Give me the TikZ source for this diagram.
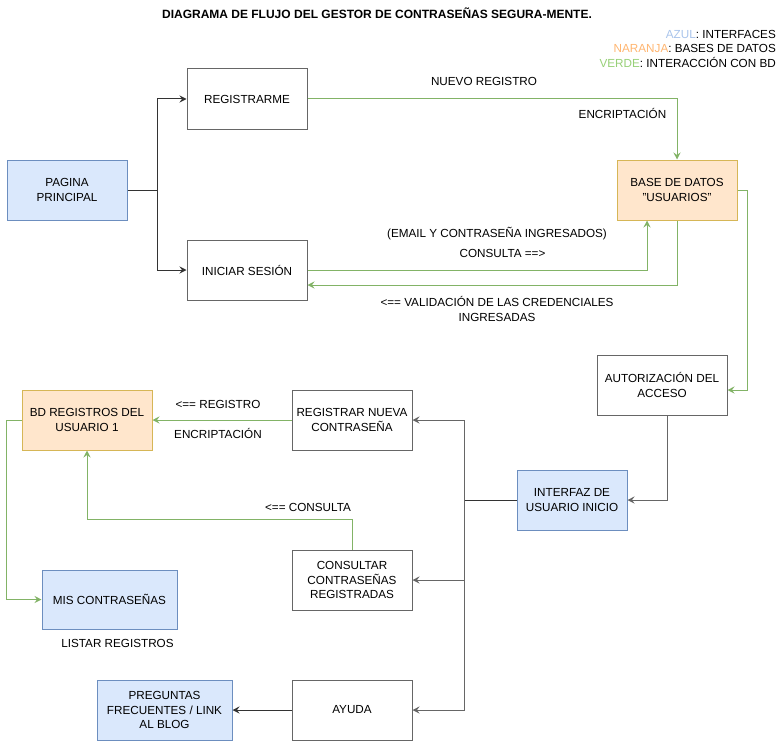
\documentclass[tikz,border=0pt]{standalone}
\usepackage{fontspec}
\setmainfont{Liberation Sans}
\usetikzlibrary{arrows.meta}
\definecolor{bluefill}{HTML}{DAE8FC}
\definecolor{bluestroke}{HTML}{6C8EBF}
\definecolor{orangefill}{HTML}{FFE6CC}
\definecolor{orangestroke}{HTML}{D6B656}
\definecolor{greenline}{HTML}{82B366}
\definecolor{boxstroke}{HTML}{666666}
\definecolor{darkline}{HTML}{333333}
\definecolor{legblue}{HTML}{A9C4EB}
\definecolor{legorange}{HTML}{FFB570}
\definecolor{leggreen}{HTML}{97D077}
\tikzset{
  txt/.style={font=\fontsize{11.7}{14.2}\selectfont, align=center, inner sep=0pt},
  box/.style={txt, draw=boxstroke, line width=1pt, fill=white,
    minimum width=120pt, minimum height=60pt},
  bluebox/.style={box, draw=bluestroke, fill=bluefill},
  orangebox/.style={box, draw=orangestroke, fill=orangefill},
  tip/.style={-{Stealth[length=7pt,width=7pt,inset=2.5pt]}},
  flow/.style={line width=1pt, draw=darkline},
  grayflow/.style={line width=1pt, draw=boxstroke},
  dbflow/.style={line width=1pt, draw=greenline, color=greenline},
  lbl/.style={txt}
}
\begin{document}
\begin{tikzpicture}[x=1pt,y=-1pt]
\useasboundingbox (0,0) rectangle (778,741);

% title and colour key
\node[txt, font=\fontsize{12}{13}\selectfont\bfseries] (title) at (377,13)
  {DIAGRAMA DE FLUJO DEL GESTOR DE CONTRASEÑAS SEGURA-MENTE.};
\node[txt, anchor=east] (key1) at (776,34) {\textcolor{legblue}{AZUL}: INTERFACES};
\node[txt, anchor=east] (key2) at (776,48) {\textcolor{legorange}{NARANJA}: BASES DE DATOS};
\node[txt, anchor=east] (key3) at (776,62) {\textcolor{leggreen}{VERDE}: INTERACCIÓN CON BD};

% boxes
\node[bluebox] (pag) at (67,190) {PAGINA\\PRINCIPAL};
\node[box] (reg) at (247,99) {REGISTRARME};
\node[box] (ini) at (247,270) {INICIAR SESIÓN};
\node[orangebox] (bdu) at (677,190) {BASE DE DATOS\\"USUARIOS"};
\node[box, minimum width=130pt] (aut) at (662,385) {AUTORIZACIÓN DEL\\ACCESO};
\node[bluebox, minimum width=110pt] (int) at (572,500) {INTERFAZ DE\\USUARIO INICIO};
\node[box] (rnc) at (352,420) {REGISTRAR NUEVA\\CONTRASEÑA};
\node[orangebox, minimum width=130pt] (bdr) at (87,420) {BD REGISTROS DEL\\USUARIO 1};
\node[box] (con) at (352,580) {CONSULTAR\\CONTRASEÑAS\\REGISTRADAS};
\node[bluebox, minimum width=135pt, minimum height=59pt] (mis) at (109.5,599.5) {MIS CONTRASEÑAS};
\node[box] (ayu) at (352,710) {AYUDA};
\node[bluebox, minimum width=135pt] (pre) at (164.5,710) {PREGUNTAS\\FRECUENTES / LINK\\AL BLOG};

% main page branches
\coordinate (s1) at (157,190);
\draw[flow] (pag.east) -- (s1);
\draw[flow, tip] (s1) |- (reg.west);
\draw[flow, tip] (s1) |- (ini.west);

% user database interaction
\draw[dbflow, tip] (reg.east) -| (bdu.north);
\draw[dbflow, tip] (ini.east) -| ([xshift=-30pt]bdu.south);
\draw[dbflow, tip] (bdu.south) |- ([yshift=-15pt]ini.east);
\draw[dbflow, tip] (bdu.east) -- ++(10,0) |- ([yshift=-5pt]aut.east);
\node[lbl] (l1) at (484,81.5) {NUEVO REGISTRO};
\node[lbl] (l2) at (622.5,113.5) {ENCRIPTACIÓN};
\node[lbl] (l3) at (497,234) {(EMAIL Y CONTRASEÑA INGRESADOS)};
\node[lbl] (l4) at (502.5,253.5) {CONSULTA ==>};
\node[lbl] (l5) at (497,309) {<== VALIDACIÓN DE LAS CREDENCIALES\\INGRESADAS};

% access to the user area
\draw[grayflow, tip] ([xshift=5pt]aut.south) |- (int.east);
\coordinate (s2) at (464,500);
\draw[flow] (int.west) -- (s2);
\draw[grayflow, tip] (s2) |- (rnc.east);
\draw[grayflow, tip] (s2) |- (con.east);
\draw[grayflow, tip] (s2) |- (ayu.east);
\draw[flow, tip] (ayu.west) -- (pre.east);

% password database interaction
\draw[dbflow, tip] (rnc.west) -- (bdr.east);
\draw[dbflow, tip] (con.north) -- ++(0,-30) -| (bdr.south);
\draw[dbflow, tip] (bdr.west) -- ++(-15,0) |- (mis.west);
\node[lbl] (l6) at (218,404) {<== REGISTRO};
\node[lbl] (l7) at (218,433.5) {ENCRIPTACIÓN};
\node[lbl] (l8) at (308,507) {<== CONSULTA};
\node[lbl] (l9) at (117.5,643) {LISTAR REGISTROS};
\end{tikzpicture}
\end{document}
